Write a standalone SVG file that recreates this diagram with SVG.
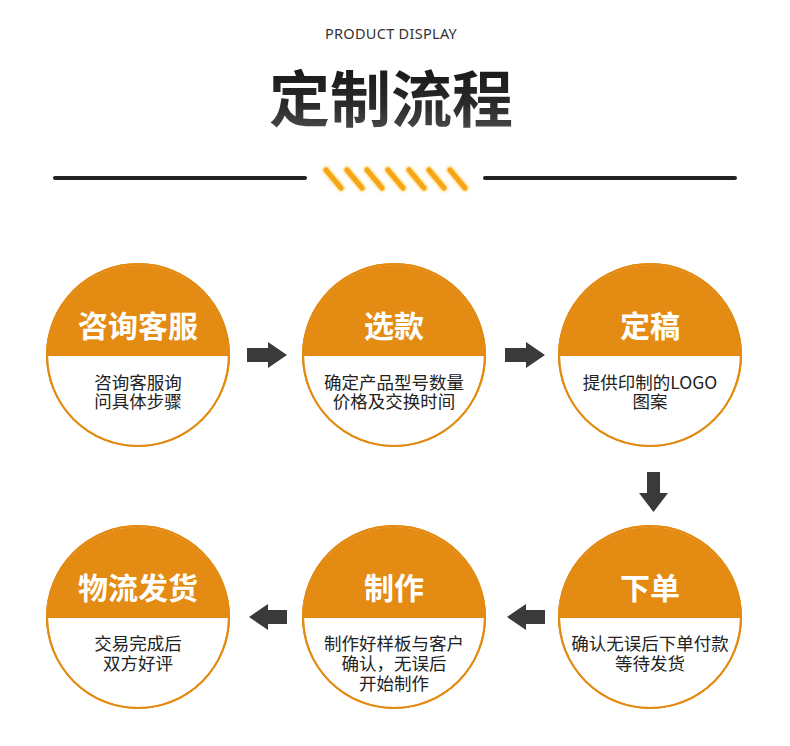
<svg xmlns="http://www.w3.org/2000/svg" width="790" height="746" viewBox="0 0 790 746">
<defs>
<linearGradient id="tg" x1="0" y1="0" x2="0" y2="1">
<stop offset="0" stop-color="#111"/><stop offset="0.6" stop-color="#2a2a2a"/><stop offset="1" stop-color="#555"/>
</linearGradient>
<filter id="glow" x="-30%" y="-30%" width="160%" height="160%"><feGaussianBlur stdDeviation="1.2"/></filter>
</defs>
<style>
.circ{fill:#fff;stroke:#e38a12;stroke-width:2}
.ring{fill:none;stroke:#e38a12;stroke-width:2}
.cap{fill:#e38b12}
.t{font-family:"Noto Sans CJK SC","Noto Sans",sans-serif;font-weight:700;font-size:30px;fill:#fff;text-anchor:middle}
.d{font-family:"Noto Sans CJK SC","Noto Sans",sans-serif;font-size:17.5px;fill:#222;text-anchor:middle}
.arr{fill:#3a3a3a}
.sl{stroke:#f5a516;stroke-width:5;stroke-linecap:round}
</style>
<rect width="790" height="746" fill="#fff"/>
<g id="header">
<text x="391" y="39" font-family="'Noto Sans','Liberation Sans',sans-serif" font-size="14.5" fill="#333" text-anchor="middle" letter-spacing="0.3">PRODUCT DISPLAY</text>
<text x="391" y="122" font-family="'Noto Sans CJK SC',sans-serif" font-weight="700" font-size="61" fill="url(#tg)" text-anchor="middle">定制流程</text>
<line x1="55" y1="178" x2="305" y2="178" stroke="#222" stroke-width="4" stroke-linecap="round"/>
<line x1="485" y1="178" x2="735" y2="178" stroke="#222" stroke-width="4" stroke-linecap="round"/>
<g filter="url(#glow)" opacity="0.6" stroke="#ffb400" stroke-width="7" stroke-linecap="round">
<path d="M326 170L341 188M347 170L362 188M367 170L382 188M388 170L403 188M409 170L424 188M429 170L444 188M450 170L465 188"/>
</g>
<path class="sl" d="M326 170L341 188M347 170L362 188M367 170L382 188M388 170L403 188M409 170L424 188M429 170L444 188M450 170L465 188"/>
</g>
<g id="node1">
<circle class="circ" cx="138" cy="355" r="91"/>
<path class="cap" d="M47 356A91 91 0 0 1 229 356Z"/>
<circle class="ring" cx="138" cy="355" r="91"/>
<text class="t" x="138" y="337">咨询客服</text>
<text class="d" x="138" y="389">咨询客服询</text>
<text class="d" x="138" y="408">问具体步骤</text>
</g>
<g id="node2">
<circle class="circ" cx="394" cy="355" r="91"/>
<path class="cap" d="M303 356A91 91 0 0 1 485 356Z"/>
<circle class="ring" cx="394" cy="355" r="91"/>
<text class="t" x="394" y="337">选款</text>
<text class="d" x="394" y="389">确定产品型号数量</text>
<text class="d" x="394" y="408">价格及交换时间</text>
</g>
<g id="node3">
<circle class="circ" cx="650" cy="355" r="91"/>
<path class="cap" d="M559 356A91 91 0 0 1 741 356Z"/>
<circle class="ring" cx="650" cy="355" r="91"/>
<text class="t" x="650" y="337">定稿</text>
<text class="d" x="650" y="389">提供印制的LOGO</text>
<text class="d" x="650" y="408">图案</text>
</g>
<g id="node4">
<circle class="circ" cx="650" cy="617" r="91"/>
<path class="cap" d="M559 618A91 91 0 0 1 741 618Z"/>
<circle class="ring" cx="650" cy="617" r="91"/>
<text class="t" x="650" y="599">下单</text>
<text class="d" x="650" y="650">确认无误后下单付款</text>
<text class="d" x="650" y="670">等待发货</text>
</g>
<g id="node5">
<circle class="circ" cx="394" cy="617" r="91"/>
<path class="cap" d="M303 618A91 91 0 0 1 485 618Z"/>
<circle class="ring" cx="394" cy="617" r="91"/>
<text class="t" x="394" y="599">制作</text>
<text class="d" x="394" y="650">制作好样板与客户</text>
<text class="d" x="394" y="670">确认，无误后</text>
<text class="d" x="394" y="690">开始制作</text>
</g>
<g id="node6">
<circle class="circ" cx="138" cy="617" r="91"/>
<path class="cap" d="M47 618A91 91 0 0 1 229 618Z"/>
<circle class="ring" cx="138" cy="617" r="91"/>
<text class="t" x="138" y="599">物流发货</text>
<text class="d" x="138" y="650">交易完成后</text>
<text class="d" x="138" y="670">双方好评</text>
</g>
<g id="connectors">
<path class="arr" d="M247 348H268V342L287 355L268 368V362H247Z"/>
<path class="arr" d="M505 348H526V342L545 355L526 368V362H505Z"/>
<path class="arr" d="M647 472H660V493H668L653.5 512L639 493H647Z"/>
<path class="arr" d="M545 610H526V604L507 617L526 630V624H545Z"/>
<path class="arr" d="M287 610H268V604L249 617L268 630V624H287Z"/>
</g>
</svg>
